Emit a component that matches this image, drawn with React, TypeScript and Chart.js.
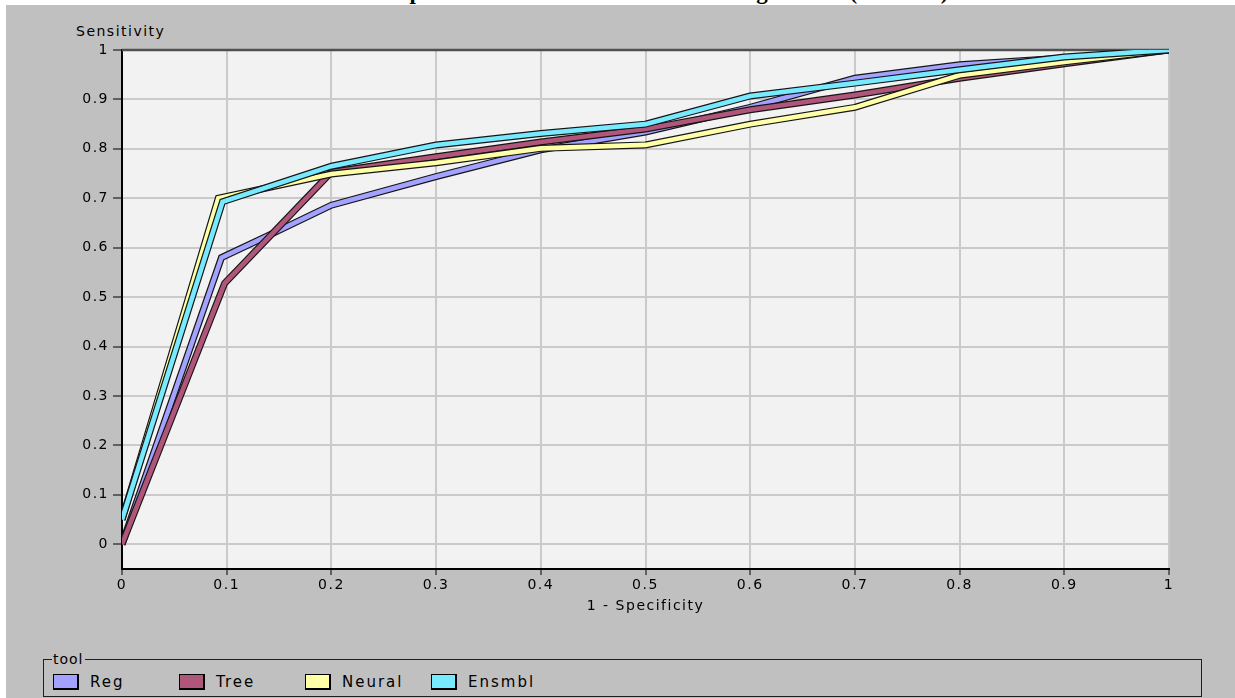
import React, { useEffect, useRef } from 'react';
import { Chart, registerables } from 'chart.js';

Chart.register(...registerables);

const TITLE = 'The ROC plots for the four models for the target event (bad cars)';
const Y_LABEL = 'Sensitivity';
const X_LABEL = '1 - Specificity';
const LEGEND_TITLE = 'tool';

const SERIES_NAMES = ['Reg', 'Tree', 'Neural', 'Ensmbl'];
const SERIES_COLORS = ['#a3a3ff', '#b0567a', '#ffffa8', '#78eaff'];

const REG_X = [0, 0.095, 0.14, 0.2, 0.3, 0.4, 0.5, 0.6, 0.7, 0.8, 0.9, 1];
const REG_Y = [0, 0.58, 0.625, 0.686, 0.744, 0.798, 0.834, 0.884, 0.943, 0.97, 0.984, 1];

const TREE_X = [0, 0.098, 0.2, 0.3, 0.4, 0.5, 0.6, 0.7, 0.8, 0.9, 1];
const TREE_Y = [0, 0.528, 0.753, 0.784, 0.814, 0.84, 0.879, 0.909, 0.943, 0.972, 1];

const NEURAL_X = [0, 0.092, 0.2, 0.3, 0.4, 0.5, 0.6, 0.7, 0.8, 0.9, 1];
const NEURAL_Y = [0.05, 0.7, 0.749, 0.772, 0.801, 0.808, 0.85, 0.884, 0.949, 0.976, 1];

const ENSMBL_X = [0, 0.096, 0.2, 0.3, 0.4, 0.5, 0.6, 0.7, 0.8, 0.9, 1];
const ENSMBL_Y = [0.05, 0.693, 0.765, 0.808, 0.831, 0.85, 0.907, 0.933, 0.96, 0.986, 1];

const X_TICKS = [0, 0.1, 0.2, 0.3, 0.4, 0.5, 0.6, 0.7, 0.8, 0.9, 1];
const Y_TICKS = [0, 0.1, 0.2, 0.3, 0.4, 0.5, 0.6, 0.7, 0.8, 0.9, 1];

const SERIES = [
  [REG_X, REG_Y],
  [TREE_X, TREE_Y],
  [NEURAL_X, NEURAL_Y],
  [ENSMBL_X, ENSMBL_Y],
];

const FONT = 'DejaVu Sans';

export default function App() {
  const canvasRef = useRef<HTMLCanvasElement | null>(null);

  useEffect(() => {
    const canvas = canvasRef.current;
    if (!canvas) return;

    const datasets: any[] = [];
    SERIES.forEach(([xs, ys], i) => {
      const data = xs.map((x, j) => ({ x, y: ys[j] }));
      datasets.push({
        label: SERIES_NAMES[i] + ' outline',
        data,
        borderColor: '#151515',
        borderWidth: 7,
        pointRadius: 0,
        tension: 0,
        borderJoinStyle: 'miter',
        order: 100 - i * 2,
      });
      datasets.push({
        label: SERIES_NAMES[i],
        data,
        borderColor: SERIES_COLORS[i],
        borderWidth: 4.6,
        pointRadius: 0,
        tension: 0,
        borderJoinStyle: 'miter',
        order: 99 - i * 2,
      });
    });

    const plotDecor = {
      id: 'plotDecor',
      beforeDraw(chart: any) {
        const { ctx, chartArea } = chart;
        const { left, top, right, bottom } = chartArea;
        ctx.save();
        ctx.fillStyle = '#f2f2f2';
        ctx.fillRect(left, top, right - left, bottom - top);
        ctx.restore();
        (ctx as any).letterSpacing = '1.5px';
      },
      beforeDatasetsDraw(chart: any) {
        const { ctx, chartArea } = chart;
        ctx.save();
        ctx.strokeStyle = '#505050';
        ctx.lineWidth = 2.5;
        ctx.beginPath();
        ctx.moveTo(chartArea.left, chartArea.top);
        ctx.lineTo(chartArea.right, chartArea.top);
        ctx.stroke();
        ctx.restore();
      },
    };

    const chart = new Chart(canvas, {
      type: 'line',
      data: { datasets },
      options: {
        animation: false,
        responsive: false,
        maintainAspectRatio: false,
        layout: { padding: { top: 50, right: 66, left: 0, bottom: 0 } },
        plugins: {
          legend: { display: false },
          tooltip: { enabled: false },
          title: { display: false },
        },
        scales: {
          x: {
            type: 'linear',
            min: 0,
            max: 1,
            afterBuildTicks: (scale: any) => {
              scale.ticks = X_TICKS.map((v) => ({ value: v }));
            },
            afterFit: (scale: any) => {
              scale.height = 71;
            },
            ticks: {
              color: '#000',
              font: { family: FONT, size: 14 },
              padding: 2,
              maxRotation: 0,
              autoSkip: false,
              callback: (v: any) => String(Math.round(Number(v) * 10) / 10),
            },
            grid: {
              color: '#cacaca',
              lineWidth: 2,
              tickColor: '#000',
              tickWidth: 1,
              tickLength: 6,
            },
            border: { color: '#000', width: 2 },
            title: {
              display: true,
              text: X_LABEL,
              color: '#000',
              font: { family: FONT, size: 14 },
              padding: { top: 0, bottom: 25 },
            },
          },
          y: {
            type: 'linear',
            min: -0.05,
            max: 1,
            afterBuildTicks: (scale: any) => {
              scale.ticks = Y_TICKS.map((v) => ({ value: v }));
            },
            afterFit: (scale: any) => {
              scale.width = 122;
            },
            ticks: {
              color: '#000',
              font: { family: FONT, size: 14 },
              padding: 4,
              autoSkip: false,
              callback: (v: any) => String(Math.round(Number(v) * 10) / 10),
            },
            grid: {
              color: '#cacaca',
              lineWidth: 2,
              tickColor: '#000',
              tickWidth: 1,
              tickLength: 9,
            },
            border: { color: '#000', width: 2 },
          },
        },
      },
      plugins: [plotDecor],
    });

    return () => {
      chart.destroy();
    };
  }, []);

  const textStyle: React.CSSProperties = {
    fontFamily: FONT,
    fontSize: 14,
    letterSpacing: '1.5px',
    color: '#000',
    lineHeight: '16px',
    whiteSpace: 'nowrap',
  };

  return (
    <div
      style={{
        position: 'absolute',
        left: 0,
        top: 0,
        width: 1235,
        height: 698,
        overflow: 'hidden',
        background: '#ffffff',
      }}
    >
      <div
        style={{
          position: 'absolute',
          left: 14,
          top: -20,
          width: 1229,
          textAlign: 'center',
          fontFamily: '"Liberation Serif", serif',
          fontWeight: 'bold',
          fontSize: 23,
          lineHeight: '23px',
          whiteSpace: 'nowrap',
        }}
      >
        {TITLE}
      </div>
      <div
        style={{
          position: 'absolute',
          left: 6,
          top: 5,
          width: 1229,
          height: 693,
          background: '#c0c0c0',
        }}
      />
      <div style={{ ...textStyle, position: 'absolute', left: 76, top: 23 }}>{Y_LABEL}</div>
      <canvas
        ref={canvasRef}
        width={1235}
        height={640}
        style={{ position: 'absolute', left: 0, top: 0, width: 1235, height: 640 }}
      />
      <fieldset
        style={{
          position: 'absolute',
          left: 43,
          top: 651,
          width: 1159,
          height: 46,
          boxSizing: 'border-box',
          margin: 0,
          padding: '0 0 0 8px',
          border: '1px solid #1e1e1e',
        }}
      >
        <legend style={{ ...textStyle, padding: '0 1px', letterSpacing: '1px' }}>{LEGEND_TITLE}</legend>
      </fieldset>
      {SERIES_NAMES.map((name, i) => (
        <React.Fragment key={name}>
          <div
            style={{
              position: 'absolute',
              left: 53 + i * 126,
              top: 674,
              width: 26,
              height: 16,
              boxSizing: 'border-box',
              background: SERIES_COLORS[i],
              border: '1px solid #000',
              borderRightWidth: 2,
              borderBottomWidth: 2,
            }}
          />
          <div
            style={{
              ...textStyle,
              fontSize: 15,
              letterSpacing: '2px',
              position: 'absolute',
              left: 90 + i * 126,
              top: 674,
              lineHeight: '16px',
            }}
          >
            {name}
          </div>
        </React.Fragment>
      ))}
    </div>
  );
}
